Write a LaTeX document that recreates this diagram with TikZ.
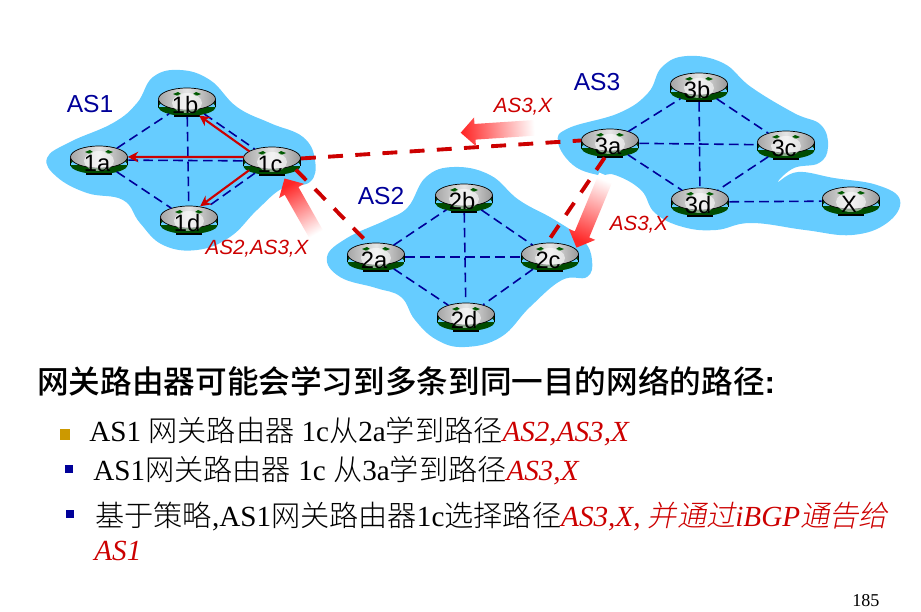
\documentclass[tikz,border=0pt]{standalone}
\usepackage{fontspec}
\setmainfont{Liberation Serif}
\setsansfont{Liberation Sans}
\newfontfamily\cjk[UprightFont=* Light]{Noto Sans CJK SC}
\newfontfamily\cjkhead[UprightFont=* Medium]{Noto Sans CJK SC}
\newfontfamily\cjkit[UprightFont=* Light,FakeSlant=0.2]{Noto Sans CJK SC}
\usetikzlibrary{arrows.meta,shapes.geometric,shapes.arrows}

\definecolor{asblue}{RGB}{102,204,255}
\definecolor{linkblue}{RGB}{0,0,153}
\definecolor{pathred}{RGB}{204,0,0}
\definecolor{bulletgold}{RGB}{204,153,0}

\tikzset{
    asblob/.style={fill=asblue, draw=none},
    aslabel/.style={font=\sffamily\fontsize{14}{14}\selectfont, text=linkblue, inner sep=0pt},
    pathlabel/.style={font=\sffamily\itshape\fontsize{11.7}{12}\selectfont, text=pathred, inner sep=0pt},
    linkline/.style={linkblue, line width=0.9pt, dash pattern=on 5.5pt off 3pt},
    gateline/.style={pathred, line width=2.2pt, dash pattern=on 8.5pt off 7pt},
    learnarrow/.style={pathred, line width=1.2pt, -{Stealth[length=6pt,width=6pt]}},
    flowarrow/.style={single arrow, minimum width=0.56cm, single arrow head extend=0.13cm,
        single arrow head indent=0pt, inner sep=0pt, text height=0.3cm, text depth=0pt,
        top color=red!85!white, bottom color=white, shading angle=#1, draw=none},
    routerbox/.style={ellipse, minimum width=1.16cm, minimum height=0.58cm, inner sep=0pt,
        font=\sffamily\fontsize{13.5}{13.5}\selectfont},
    textline/.style={anchor=base west, inner sep=0pt, font=\fontsize{16.6}{17}\selectfont},
    squaremark/.style={rectangle, inner sep=0pt, minimum size=#1},
}

\newcommand{\router}[3]{%
    \begin{scope}[shift={(#2)}]
        \shade[left color=green!30!black, middle color=green!30!black!25, right color=green!30!black]
            (-28.5,-3) rectangle (28.5,5) (0,5) ellipse [x radius=28.5, y radius=9];
        \draw[black, line width=0.4pt] (-28.5,-3) -- (-28.5,5) (28.5,-3) -- (28.5,5);
        \fill[black] (-13,13) rectangle (13,15);
        \shade[draw=black, line width=0.4pt, left color=black!35, right color=black!40, middle color=black!10]
            (0,-3) ellipse [x radius=28.5, y radius=11];
        \fill[green!35!black] (-9,-10) -- (-6,-8) -- (-9,-6) -- (-14,-8) -- cycle
            (9,-10) -- (14,-8) -- (9,-6) -- (6,-8) -- cycle;
        \fill[white, opacity=0.55] (0,1) ellipse [x radius=15, y radius=10];
    \end{scope}
    \node[routerbox] (#1) at (#2) {\makebox[0pt]{\hspace{-2.2pt}\raisebox{-6.5pt}[0pt][0pt]{#3}}};
}

\newcommand{\zh}[1]{{\cjk #1}}
\newcommand{\redzh}[1]{{\cjkit\color{pathred} #1}}
\newcommand{\redit}[1]{{\itshape\color{pathred} #1}}

\begin{document}
\begin{tikzpicture}[x=0.02cm, y=-0.02cm]
    \useasboundingbox (0,0) rectangle (921,612);

    % the three domains
    \draw[asblob] plot[smooth cycle, tension=0.7] coordinates {
        (47,158) (70,142) (113,123) (137,103) (153,77) (180,70) (210,80) (237,107)
        (270,123) (303,137) (315,160) (310,182) (283,188) (257,210) (230,237)
        (197,250) (163,245) (140,223) (123,200) (87,193) (57,177)};
    \draw[asblob] plot[smooth cycle, tension=0.7] coordinates {
        (327,257) (347,238) (386,220) (408,207) (426,177) (454,167) (490,175)
        (519,200) (555,220) (583,240) (592,260) (587,277) (562,280) (530,307)
        (501,337) (465,347) (437,340) (415,320) (401,297) (376,288) (340,277)};
    \draw[asblob] plot[smooth cycle, tension=0.7] coordinates {
        (558,142) (569,128) (619,113) (648,93) (662,67) (687,56) (723,63) (751,87)
        (794,113) (821,125) (828,147) (819,163) (794,168) (778,182) (798,172)
        (834,178) (877,185) (900,200) (887,223) (852,235) (805,230) (751,223)
        (716,230) (683,227) (655,213) (641,190) (615,175) (598,175) (573,165)};

    % routers
    \foreach \rname/\rx/\ry in {1a/99/160, 1b/187/102, 1c/272/161, 1d/189/220,
        2a/376/257, 2b/464/198, 2c/550/257, 2d/466/317,
        3a/610/143, 3b/699/87, 3c/786/145, 3d/700/202, X/851/201}
        \router{\rname}{\rx,\ry}{\rname};

    % links inside each domain
    \foreach \ra/\rb in {1a/1b, 1a/1c, 1a/1d, 1b/1c, 1b/1d, 1c/1d,
        2a/2b, 2a/2c, 2a/2d, 2b/2c, 2b/2d, 2c/2d,
        3a/3b, 3a/3c, 3a/3d, 3b/3c, 3b/3d, 3c/3d, 3d/X}
        \draw[linkline] (\ra) -- (\rb);

    % links between domains
    \draw[gateline] (1c.5) -- (3a.175);
    \draw[gateline] (1c.-20) -- (2a.120);
    \draw[gateline] (3a.250) -- (2c.100);

    % what 1c tells the others
    \draw[learnarrow] (1c.157) -- (1b.-48);
    \draw[learnarrow] (1c.172) -- (1a.6);
    \draw[learnarrow] (1c.202) -- (1d.51);

    % advertisements
    \node[flowarrow=93.8, minimum height=1.5cm, rotate=183.8] (flowthree) at (502,130) {};
    \node[flowarrow=157.4, minimum height=1.56cm, rotate=247.4] (flowtwo) at (593,208) {};
    \node[flowarrow=29.6, minimum height=1.34cm, rotate=119.6] (flowone) at (303,211) {};

    % labels
    \node[aslabel] (asone) at (90,104) {AS1};
    \node[aslabel] (astwo) at (381,196) {AS2};
    \node[aslabel] (asthree) at (597,82) {AS3};
    \node[pathlabel] (pathone) at (257,249) {AS2,AS3,X};
    \node[pathlabel] (pathtwo) at (523,107) {AS3,X};
    \node[pathlabel] (paththree) at (639,225) {AS3,X};

    % text below
    \node[textline, font=\sffamily\bfseries\fontsize{18}{18}\selectfont] (headline) at (37,393)
        {{\cjkhead\mdseries 网关路由器可能会学习到多条到同一目的网络的路径}:};
    \node[squaremark=0.22cm, fill=bulletgold] (markone) at (65,434) {};
    \node[textline] (lineone) at (89,441)
        {AS1 \zh{网关路由器} 1c\zh{从}2a\zh{学到路径}\redit{AS2,AS3,X}};
    \node[squaremark=0.17cm, fill=linkblue] (marktwo) at (69,469) {};
    \node[textline] (linetwo) at (93,480)
        {AS1\zh{网关路由器} 1c \zh{从}3a\zh{学到路径}\redit{AS3,X}};
    \node[squaremark=0.17cm, fill=linkblue] (markthree) at (70,514) {};
    \node[textline] (linethree) at (95,526)
        {\zh{基于策略},AS1\zh{网关路由器}1c\zh{选择路径}\redit{AS3,X, }\redzh{并通过}\redit{iBGP}\redzh{通告给}};
    \node[textline] (linefour) at (94,560) {\redit{AS1}};
    \node[textline, font=\fontsize{10.3}{11}\selectfont] (pagenum) at (852,606) {185};
\end{tikzpicture}
\end{document}
